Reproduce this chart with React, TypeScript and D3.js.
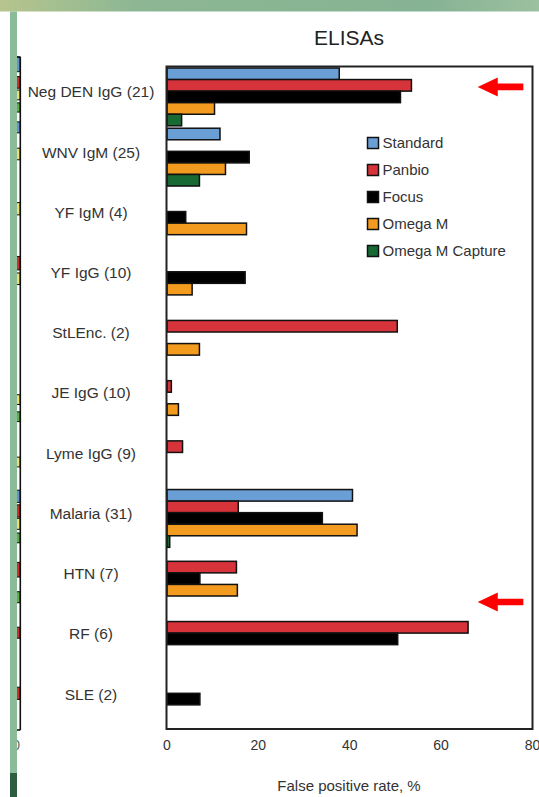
import React from "react";
import * as d3 from "d3";

const categories = [
  "Neg DEN IgG (21)",
  "WNV IgM (25)",
  "YF IgM (4)",
  "YF IgG (10)",
  "StLEnc. (2)",
  "JE IgG (10)",
  "Lyme IgG (9)",
  "Malaria (31)",
  "HTN (7)",
  "RF (6)",
  "SLE (2)",
];
const seriesNames = ["Standard", "Panbio", "Focus", "Omega M", "Omega M Capture"];
const seriesColors = ["#6a9fd6", "#d6333b", "#000000", "#f39b1f", "#176a34"];
const standard = [37.7, 11.6, 0, 0, 0, 0, 0, 40.6, 0, 0, 0];
const panbio = [53.5, 0, 0, 0, 50.4, 0.95, 3.4, 15.6, 15.2, 65.9, 0];
const focus = [51.1, 18.0, 4.1, 17.1, 0, 0, 0, 34.0, 7.2, 50.5, 7.2];
const omegaM = [10.4, 12.8, 17.4, 5.5, 7.1, 2.5, 0, 41.6, 15.4, 0, 0];
const omegaMCapture = [3.2, 7.1, 0, 0, 0, 0, 0, 0.6, 0, 0, 0];
const xTicks = [0, 20, 40, 60, 80];
const arrowCategories = ["Neg DEN IgG (21)", "RF (6)"];

// remnants of the neighbouring (cut-off) chart at the left edge, in slot units
const neighbourMarks: [number, number, string][] = [
  [0, 1.2, "#5f96cf"], [1.6, 2.55, "#c9312f"], [2.7, 3.5, "#e9e07a"], [3.75, 4.5, "#5fae4c"],
  [5.3, 6.2, "#5f96cf"], [7.45, 8.4, "#e9e07a"], [11.9, 12.9, "#e9e07a"], [16.3, 17.4, "#c9312f"],
  [17.65, 18.6, "#e9e07a"], [27.6, 28.4, "#e9e07a"], [29.0, 29.8, "#5fae4c"], [32.7, 33.5, "#e9e07a"],
  [35.4, 36.4, "#5f96cf"], [36.6, 37.6, "#c9312f"], [37.7, 38.6, "#e9e07a"], [38.9, 39.7, "#5fae4c"],
  [41.3, 42.5, "#c9312f"], [43.7, 44.6, "#5fae4c"], [46.6, 47.5, "#c9312f"], [51.5, 52.5, "#c9312f"],
];

const W = 539;
const H = 797;
const font = "'Liberation Sans', Arial, Helvetica, sans-serif";

export default function App() {
  const values = [standard, panbio, focus, omegaM, omegaMCapture];
  const x = d3.scaleLinear().domain([0, 80]).range([167, 532.5]);
  const y = d3.scaleBand<string>().domain(categories).range([68, 728]).paddingInner(0.04).paddingOuter(0);
  const ys = d3.scaleBand<string>().domain(seriesNames).range([0, y.bandwidth()]);
  const ny = d3.scaleLinear().domain([0, 55]).range([57, 730]);

  const frame = { left: 166.5, right: 532.5, top: 66.5, bottom: 729 };

  return (
    <svg width={W} height={H} style={{ position: "absolute", left: 0, top: 0 }} fontFamily={font}>
      <defs>
        <linearGradient id="topband" x1="0" x2="1" y1="0" y2="0">
          <stop offset="0" stopColor="#b6c58d" />
          <stop offset="0.25" stopColor="#8db793" />
          <stop offset="0.8" stopColor="#86b394" />
          <stop offset="1" stopColor="#9cc0a0" />
        </linearGradient>
        <clipPath id="nclip">
          <rect x={17} y={0} width={10} height={H} />
        </clipPath>
      </defs>
      <rect x={0} y={0} width={W} height={H} fill="#ffffff" />
      <rect x={0} y={0} width={W} height={11.5} fill="url(#topband)" />
      <rect x={10} y={11.5} width={7} height={762} fill="#8bbb99" />
      <rect x={10} y={773} width={7} height={24} fill="#2e5d3f" />

      {/* neighbouring chart remnant */}
      <g clipPath="url(#nclip)">
        {neighbourMarks.map(([a, b, c], i) => (
          <rect key={i} x={16} y={ny(a)} width={4.2} height={ny(b) - ny(a)} fill={c} stroke="#111" strokeWidth={1} />
        ))}
        <line x1={20.3} x2={20.3} y1={ny(0)} y2={ny(55)} stroke="#111" strokeWidth={1.6} />
        <line x1={15} x2={20.3} y1={ny(55)} y2={ny(55)} stroke="#111" strokeWidth={1.6} />
        <line x1={15} x2={20.3} y1={ny(0)} y2={ny(0)} stroke="#111" strokeWidth={1.6} />
        <text x={20} y={750} fontSize={14} fill="#666" textAnchor="end">0</text>
      </g>

      <text x={349} y={45} fontSize={21} textAnchor="middle" fill="#222">ELISAs</text>

      {/* bars */}
      {categories.map((cat, ci) => (
        <g key={cat} transform={`translate(0,${y(cat)})`}>
          {seriesNames.map((s, si) => {
            const v = values[si][ci];
            if (!v) return null;
            return (
              <rect
                key={s}
                x={x(0)}
                y={ys(s)}
                width={x(v) - x(0)}
                height={ys.bandwidth()}
                fill={seriesColors[si]}
                stroke="#111"
                strokeWidth={1.5}
              />
            );
          })}
        </g>
      ))}

      {/* frame */}
      <rect x={frame.left} y={frame.top} width={frame.right - frame.left} height={frame.bottom - frame.top}
        fill="none" stroke="#222" strokeWidth={2} />

      {/* category labels */}
      {categories.map((cat) => (
        <text key={cat} x={91} y={(y(cat) as number) + y.bandwidth() / 2 - 5} dy="0.35em"
          fontSize={15.5} textAnchor="middle" fill="#333">{cat}</text>
      ))}

      {/* x ticks */}
      {xTicks.map((t) => (
        <text key={t} x={x(t)} y={750} fontSize={14} textAnchor="middle" fill="#333">{t}</text>
      ))}
      <text x={349} y={791} fontSize={15} textAnchor="middle" fill="#333">False positive rate, %</text>

      {/* legend */}
      {seriesNames.map((s, i) => (
        <g key={s} transform={`translate(367.5,${143 + i * 27})`}>
          <rect x={0} y={-5.5} width={11} height={11} fill={seriesColors[i]} stroke="#111" strokeWidth={1.5} />
          <text x={15} y={0} dy="0.35em" fontSize={15} fill="#333">{s}</text>
        </g>
      ))}

      {/* arrows */}
      {arrowCategories.map((cat, i) => {
        const cy = i === 0 ? (y(cat) as number) + y.bandwidth() / 2 - 10 : (y(cat) as number) - 8;
        const tip = x(68);
        const base = x(72.4);
        const tail = x(78);
        const hh = 9.5;
        const sh = 3.3;
        const d = `M${tip},${cy} L${base},${cy - hh} L${base},${cy - sh} L${tail},${cy - sh} L${tail},${cy + sh} L${base},${cy + sh} L${base},${cy + hh} Z`;
        return <path key={cat} d={d} fill="#ff0000" />;
      })}
    </svg>
  );
}
